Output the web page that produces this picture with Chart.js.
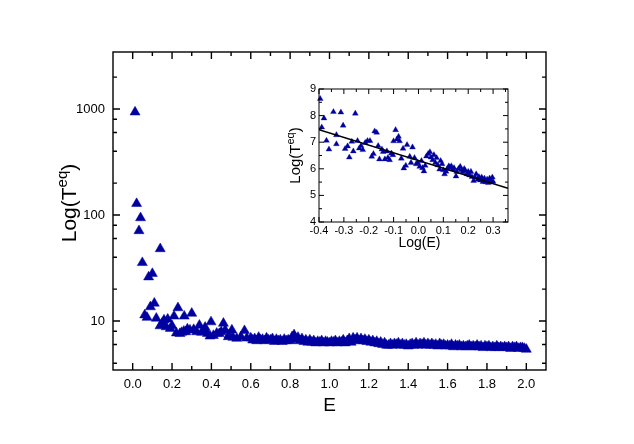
<!DOCTYPE html>
<html><head><meta charset="utf-8">
<script src="https://cdn.jsdelivr.net/npm/chart.js@4/dist/chart.umd.min.js"></script>
<style>
html,body{margin:0;padding:0;background:#fff;}
#wrap{position:relative;width:634px;height:444px;overflow:hidden;}
#main{position:absolute;left:0;top:0;}
#inset{position:absolute;left:262px;top:78px;}
</style></head><body>
<div id="wrap"><canvas id="main" width="634" height="444"></canvas><canvas id="inset" width="256" height="180"></canvas></div>
<script>
// ---------- main plot data (E, T) ----------
const mainE = [0.012,0.020,0.032,0.040,0.049,0.061,0.073,0.081,0.090,0.100,0.110,0.120,0.139,0.140,0.150,0.159,0.170,0.178,0.191,0.200,0.210,0.222,0.230,0.240,0.249,0.260,0.262,0.270,0.278,0.291,0.300,0.310,0.325,0.339,0.350,0.360,0.368,0.380,0.393,0.398,0.410,0.427,0.440,0.450,0.461,0.470,0.486,0.490,0.504,0.510,0.529,0.550,0.568,0.580,
0.60,0.61,0.62,0.63,0.64,0.65,0.66,0.67,0.68,0.69,
0.70,0.71,0.72,0.73,0.74,0.75,0.76,0.77,0.78,0.79,
0.80,0.81,0.82,0.83,0.84,0.85,0.86,0.87,0.88,0.89,
0.90,0.91,0.92,0.93,0.94,0.95,0.96,0.97,0.98,0.99,
1.00,1.01,1.02,1.03,1.04,1.05,1.06,1.07,1.08,1.09,
1.10,1.11,1.12,1.13,1.14,1.15,1.16,1.17,1.18,1.19,
1.20,1.21,1.22,1.23,1.24,1.25,1.26,1.27,1.28,1.29,
1.30,1.31,1.32,1.33,1.34,1.35,1.36,1.37,1.38,1.39,
1.40,1.41,1.42,1.43,1.44,1.45,1.46,1.47,1.48,1.49,
1.50,1.51,1.52,1.53,1.54,1.55,1.56,1.57,1.58,1.59,
1.60,1.61,1.62,1.63,1.64,1.65,1.66,1.67,1.68,1.69,
1.70,1.71,1.72,1.73,1.74,1.75,1.76,1.77,1.78,1.79,
1.80,1.81,1.82,1.83,1.84,1.85,1.86,1.87,1.88,1.89,
1.90,1.91,1.92,1.93,1.94,1.95,1.96,1.97,1.98,1.99,2.00];
const mainT = [935,128,71,94,35.5,11.4,10.8,26,13.6,28,14.7,10.6,9.0,48,9.5,10.2,8.8,10.4,8.5,9.0,11.1,7.7,13.3,7.6,7.8,8.0,11.1,7.9,8.4,8.2,11.8,8.3,7.9,9.1,7.8,8.0,8.7,7.6,7.2,9.8,7.3,7.65,7.6,7.9,9.5,8.2,7.1,7.4,8.2,7.0,6.85,7.1,8.1,6.9,
6.9,6.6,6.8,6.5,7.0,6.6,6.7,6.5,6.9,6.6,
6.6,6.8,6.4,6.7,6.5,6.6,6.4,6.7,6.5,6.6,
6.5,7.1,7.4,6.7,7.0,6.5,6.8,6.4,6.6,6.3,
6.6,6.3,6.5,6.2,6.4,6.3,6.5,6.2,6.4,6.3,
6.2,6.4,6.3,6.5,6.2,6.4,6.3,6.6,6.2,6.5,
6.8,6.3,6.9,6.6,6.9,6.5,6.8,6.5,6.7,6.4,
6.6,6.3,6.5,6.2,6.4,6.1,6.3,6.0,6.2,5.9,
5.9,6.1,5.9,6.1,6.0,6.2,5.9,6.1,5.9,6.0,
5.8,6.0,6.1,5.9,6.2,5.9,6.1,6.0,6.2,5.9,
6.1,5.9,6.1,5.9,6.0,5.8,6.1,5.9,6.0,5.8,
5.9,5.8,6.0,5.7,5.9,5.8,5.9,5.7,5.8,5.7,
5.8,5.9,5.7,5.8,5.7,5.9,5.7,5.8,5.6,5.8,
5.7,5.8,5.6,5.7,5.6,5.8,5.6,5.7,5.6,5.7,
5.6,5.7,5.5,5.7,5.6,5.7,5.5,5.6,5.6,5.5,5.4];
const mainXTicks = [0.0,0.2,0.4,0.6,0.8,1.0,1.2,1.4,1.6,1.8,2.0];
const mainXMinor = [0.1,0.3,0.5,0.7,0.9,1.1,1.3,1.5,1.7,1.9];
const mainYTicks = [10,100,1000];
const mainYMinor = [4,6,8,20,40,60,80,200,400,600,800,2000];

// ---------- inset data (Log(E), Log(T)) ----------
const insetLogE = [-0.395,-0.389,-0.38,-0.37,-0.36,-0.342,-0.33,-0.33,-0.312,-0.303,-0.295,-0.285,-0.278,-0.268,-0.262,-0.254,-0.245,-0.238,-0.231,-0.224,-0.214,-0.205,-0.195,-0.188,-0.181,-0.176,-0.168,-0.162,-0.157,-0.147,-0.142,-0.135,-0.127,-0.123,-0.116,-0.109,-0.103,-0.1,-0.092,-0.086,-0.08,-0.076,-0.069,-0.062,-0.059,-0.051,-0.046,-0.035,-0.03,-0.024,-0.016,-0.009,-0.003,0.005,0.012,0.016,0.022,0.027,0.032,0.039,0.046,0.05,0.057,0.062,0.068,0.073,0.078,0.085,0.089,0.095,0.1,0.105,0.111,0.116,0.122,0.127,0.132,0.138,0.143,0.151,0.154,0.161,0.168,0.173,0.178,0.184,0.188,0.195,0.2,0.205,0.211,0.215,0.222,0.227,0.232,0.238,0.243,0.249,0.254,0.259,0.265,0.27,0.276,0.281,0.286,0.292,0.297,0.3];
const insetLogT = [8.63,7.56,7.9,7.06,6.73,8.14,7.27,6.93,8.12,7.63,6.75,6.85,6.43,7.02,6.66,8.08,7.05,6.77,6.86,6.71,6.98,7.05,7.05,6.46,6.56,7.41,7.36,6.86,6.36,6.73,6.64,6.36,6.66,6.41,6.33,6.58,6.52,7.04,7.46,7.11,7.21,7.04,6.39,6.76,6.02,6.12,6.9,6.46,6.23,6.81,6.41,6.18,6.23,6.08,6.3,6.03,5.91,6.12,6.47,6.56,6.63,6.43,6.33,6.52,6.23,6.41,6.14,5.98,6.3,6.18,5.95,5.8,5.9,6.0,6.1,6.05,6.1,5.98,6.03,5.72,5.89,6.0,6.08,5.95,5.88,6.0,5.93,5.8,5.89,5.76,5.89,5.7,5.55,5.68,5.8,5.6,5.7,5.57,5.68,5.51,5.64,5.5,5.6,5.47,5.64,5.55,5.68,5.52];
const fitLogE = [-0.4, 0.36];
const fitLogT = [7.47, 5.27];
const insetXTicks = [-0.4,-0.3,-0.2,-0.1,0.0,0.1,0.2,0.3];
const insetXMinor = [-0.35,-0.25,-0.15,-0.05,0.05,0.15,0.25,0.35];
const insetYTicks = [4,5,6,7,8,9];
const insetYMinor = [4.5,5.5,6.5,7.5,8.5];

const BLUE = '#0000A0';
const FONT = '"Liberation Sans", Arial, sans-serif';

function pts(xs, ys){ const n=Math.min(xs.length,ys.length); const r=[]; for(let i=0;i<n;i++) r.push({x:xs[i],y:ys[i]}); return r; }

const framePlugin = {
  id:'frame',
  afterDraw(chart, args, o){
    const {ctx, chartArea:a} = chart;
    const x = chart.scales.x, y = chart.scales.y;
    ctx.save();
    ctx.strokeStyle = '#000';
    ctx.lineWidth = o.lw;
    ctx.strokeRect(a.left, a.top, a.right-a.left, a.bottom-a.top);
    ctx.beginPath();
    const tx = (v,len)=>{ const p=x.getPixelForValue(v); ctx.moveTo(p,a.bottom); ctx.lineTo(p,a.bottom-len); ctx.moveTo(p,a.top); ctx.lineTo(p,a.top+len); };
    const ty = (v,len)=>{ const p=y.getPixelForValue(v); ctx.moveTo(a.left,p); ctx.lineTo(a.left+len,p); ctx.moveTo(a.right,p); ctx.lineTo(a.right-len,p); };
    o.xMajor.forEach(v=>tx(v,o.major)); o.xMinor.forEach(v=>tx(v,o.minor));
    o.yMajor.forEach(v=>ty(v,o.major)); o.yMinor.forEach(v=>ty(v,o.minor));
    ctx.stroke();
    // x title
    ctx.fillStyle = '#000';
    ctx.font = o.xFont + 'px ' + FONT;
    ctx.textAlign = 'center'; ctx.textBaseline = 'middle';
    ctx.fillText(o.xTitle, (a.left+a.right)/2 + (o.xTitleDX||0), o.xTitleY);
    // y title with superscript
    ctx.translate(o.yTitleX, (a.top+a.bottom)/2 + (o.yTitleDY||0));
    ctx.rotate(-Math.PI/2);
    ctx.textAlign = 'left'; ctx.textBaseline = 'alphabetic';
    const big = o.yFont + 'px ' + FONT, small = o.supFont + 'px ' + FONT;
    ctx.font = big; const w1 = ctx.measureText(o.yMain).width; const w3 = ctx.measureText(o.yEnd).width;
    ctx.font = small; const w2 = ctx.measureText(o.ySup).width;
    let sx = -(w1+w2+w3)/2; const base = o.yFont*0.36;
    ctx.font = big; ctx.fillText(o.yMain, sx, base); sx += w1;
    ctx.font = small; ctx.fillText(o.ySup, sx, base - o.yFont*0.42); sx += w2;
    ctx.font = big; ctx.fillText(o.yEnd, sx, base);
    ctx.restore();
  }
};

new Chart(document.getElementById('main'), {
  type:'scatter',
  data:{ datasets:[{ data: pts(mainE, mainT), pointStyle:'triangle', pointRadius:5.8, backgroundColor:BLUE, borderColor:BLUE, borderWidth:0.5, clip:false }]},
  options:{
    responsive:false, animation:false, events:[],
    layout:{ padding:{ left:0, right:88, top:52, bottom:0 } },
    plugins:{ legend:{display:false}, tooltip:{enabled:false},
      frame:{ lw:1.4, major:7, minor:4, xMajor:mainXTicks, xMinor:mainXMinor, yMajor:mainYTicks, yMinor:mainYMinor,
        xTitle:'E', xFont:19, xTitleY:406, yMain:'Log(T', ySup:'eq', yEnd:')', yFont:21, supFont:15, yTitleX:68, yTitleDY:-8 } },
    scales:{
      x:{ type:'linear', min:-0.1, max:2.1, grid:{display:false, drawTicks:false}, border:{display:false},
        afterBuildTicks:s=>{ s.ticks = mainXTicks.map(v=>({value:v})); },
        afterFit:s=>{ s.height = 74; },
        ticks:{ autoSkip:false, maxRotation:0, padding:7, color:'#000', font:{size:13, family:FONT}, callback:v=>Number(v).toFixed(1) } },
      y:{ type:'logarithmic', min:3.45, max:3450, grid:{display:false, drawTicks:false}, border:{display:false},
        afterBuildTicks:s=>{ s.ticks = mainYTicks.map(v=>({value:v})); },
        afterFit:s=>{ s.width = 113; },
        ticks:{ autoSkip:false, padding:8, color:'#000', font:{size:13, family:FONT}, callback:v=>String(v) } }
    }
  },
  plugins:[framePlugin]
});

new Chart(document.getElementById('inset'), {
  type:'scatter',
  data:{ datasets:[
    { data: pts(insetLogE, insetLogT), pointStyle:'triangle', pointRadius:3.4, backgroundColor:BLUE, borderColor:BLUE, borderWidth:0.3, order:2, clip:false },
    { type:'line', data: pts(fitLogE, fitLogT), borderColor:'#000', borderWidth:1.6, pointRadius:0, fill:false, order:1 }
  ]},
  options:{
    responsive:false, animation:false, events:[],
    layout:{ padding:{ left:0, right:10, top:11, bottom:0 } },
    plugins:{ legend:{display:false}, tooltip:{enabled:false},
      frame:{ lw:1, major:5, minor:3, xMajor:insetXTicks, xMinor:insetXMinor, yMajor:insetYTicks, yMinor:insetYMinor,
        xTitle:'Log(E)', xFont:14, xTitleY:165, xTitleDX:6, yMain:'Log(T', ySup:'eq', yEnd:')', yFont:15, supFont:11, yTitleX:33, yTitleDY:0 } },
    scales:{
      x:{ type:'linear', min:-0.4, max:0.36, grid:{display:false, drawTicks:false}, border:{display:false},
        afterBuildTicks:s=>{ s.ticks = insetXTicks.map(v=>({value:v})); },
        afterFit:s=>{ s.height = 36; },
        ticks:{ autoSkip:false, maxRotation:0, padding:2, color:'#000', font:{size:11, family:FONT}, callback:v=>Number(v).toFixed(1) } },
      y:{ type:'linear', min:4, max:9, grid:{display:false, drawTicks:false}, border:{display:false},
        afterBuildTicks:s=>{ s.ticks = insetYTicks.map(v=>({value:v})); },
        afterFit:s=>{ s.width = 57; },
        ticks:{ autoSkip:false, padding:3, color:'#000', font:{size:11, family:FONT}, callback:v=>String(v) } }
    }
  },
  plugins:[framePlugin]
});
</script>
</body></html>
